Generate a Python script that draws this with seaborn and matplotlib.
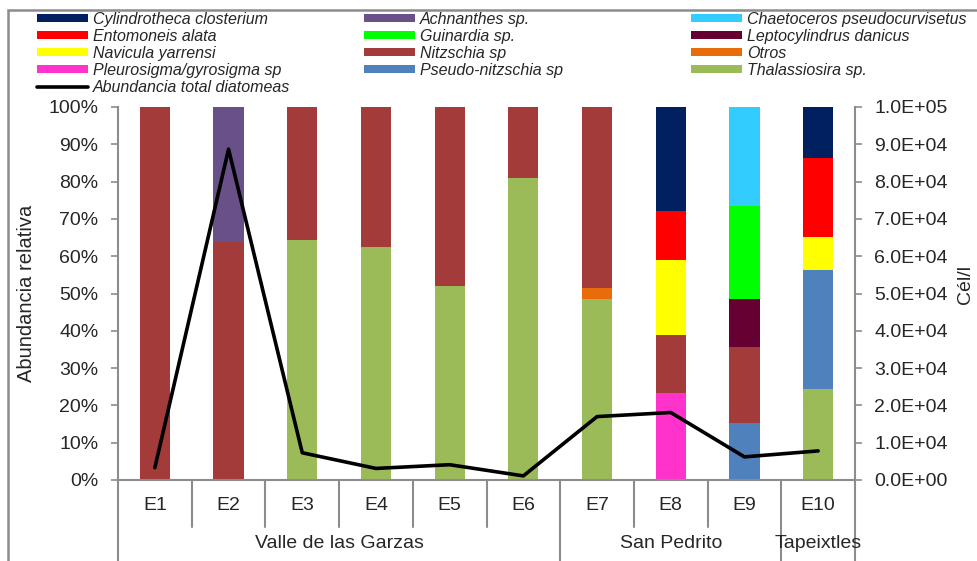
import numpy as np
import pandas as pd
import matplotlib
matplotlib.use("Agg")
import matplotlib.pyplot as plt
import matplotlib.transforms as mtransforms
from matplotlib.patches import Patch, Rectangle
from matplotlib.lines import Line2D
import seaborn as sns

# ---- data ----
stations = ["E1", "E2", "E3", "E4", "E5", "E6", "E7", "E8", "E9", "E10"]
regions = ["Valle de las Garzas", "San Pedrito", "Tapeixtles"]
region_sizes = [6, 3, 1]

# relative abundance (%) per taxon and station
cylindrotheca = [0, 0, 0, 0, 0, 0, 0, 27.9, 0, 13.8]
achnanthes = [0, 36.1, 0, 0, 0, 0, 0, 0, 0, 0]
chaetoceros = [0, 0, 0, 0, 0, 0, 0, 0, 26.5, 0]
entomoneis = [0, 0, 0, 0, 0, 0, 0, 13.1, 0, 21.0]
guinardia = [0, 0, 0, 0, 0, 0, 0, 0, 25.1, 0]
leptocylindrus = [0, 0, 0, 0, 0, 0, 0, 0, 12.7, 0]
navicula = [0, 0, 0, 0, 0, 0, 0, 20.2, 0, 8.9]
nitzschia = [100, 63.9, 35.7, 37.5, 48.0, 19.0, 48.5, 15.5, 20.3, 0]
otros = [0, 0, 0, 0, 0, 0, 3.1, 0, 0, 0]
pleurosigma = [0, 0, 0, 0, 0, 0, 0, 23.3, 0, 0]
pseudo_nitzschia = [0, 0, 0, 0, 0, 0, 0, 0, 15.4, 32.0]
thalassiosira = [0, 0, 64.3, 62.5, 52.0, 81.0, 48.4, 0, 0, 24.3]

# total diatom abundance (cells per litre)
total_cells = [3300, 88700, 7300, 3100, 4100, 1100, 17000, 18100, 6200, 7800]

taxa_names = [
    "Cylindrotheca closterium", "Achnanthes sp.", "Chaetoceros pseudocurvisetus",
    "Entomoneis alata", "Guinardia sp.", "Leptocylindrus danicus",
    "Navicula yarrensi", "Nitzschia sp", "Otros",
    "Pleurosigma/gyrosigma sp", "Pseudo-nitzschia sp", "Thalassiosira sp.",
]
taxa_values = [
    cylindrotheca, achnanthes, chaetoceros, entomoneis, guinardia, leptocylindrus,
    navicula, nitzschia, otros, pleurosigma, pseudo_nitzschia, thalassiosira,
]
taxa_colors = [
    "#002060", "#6A5088", "#33CCFF", "#FF0000", "#00FF00", "#660033",
    "#FFFF00", "#A33B3A", "#E96C0A", "#FF33CC", "#4F81BD", "#9BBB59",
]

# ---- style ----
sns.set_theme(style="white")
plt.rcParams["font.family"] = ["Liberation Sans", "DejaVu Sans"]
GRAY = "#8C8C8C"
TXT = "#262626"
FS = 14

W, H = 978, 561
fig = plt.figure(figsize=(W / 100, H / 100), dpi=100)
x0, x1, y0, y1 = 118, 855, 480, 107
ax = fig.add_axes([x0 / W, 1 - y0 / H, (x1 - x0) / W, (y0 - y1) / H])

# stacking goes bottom-up in reverse legend order
stack_order = list(range(len(taxa_names)))[::-1]
cum = np.zeros(len(stations))
levels = []
for i in stack_order:
    cum = cum + np.array(taxa_values[i], dtype=float)
    levels.append((i, cum.copy()))

# draw cumulative tops from the highest level down so each layer shows its own slice
for i, top in levels[::-1]:
    df = pd.DataFrame({"station": stations, "pct": top})
    sns.barplot(data=df, x="station", y="pct", order=stations, color=taxa_colors[i],
                saturation=1, width=0.41, errorbar=None, linewidth=0, ax=ax)

ax.set_xlim(-0.5, len(stations) - 0.5)
ax.set_ylim(0, 100)
ax.set_yticks(np.arange(0, 101, 10))
ax.set_yticklabels([f"{v:d}%" for v in range(0, 101, 10)], fontsize=FS, color=TXT)
ax.tick_params(axis="y", direction="out", length=5, width=1.2, color=GRAY, pad=9, left=True)
ax.set_xticks([])
ax.set_xlabel("")
ax.set_ylabel("")
for s in ["top", "right"]:
    ax.spines[s].set_visible(False)
for s in ["left", "bottom"]:
    ax.spines[s].set_color(GRAY)
    ax.spines[s].set_linewidth(1.5)

# secondary axis: total abundance
ax2 = ax.twinx()
line_df = pd.DataFrame({"pos": np.arange(len(stations)), "cells": total_cells})
sns.lineplot(data=line_df, x="pos", y="cells", color="black", linewidth=2.6,
             sort=False, ax=ax2)
ax2.set_ylim(0, 100000)
rt = np.arange(0, 100001, 10000)
ax2.set_yticks(rt)


def sci_label(v):
    if v == 0:
        return "0.0E+00"
    e = int(np.floor(np.log10(v)))
    return f"{v / 10 ** e:.1f}E+{e:02d}"


ax2.set_yticklabels([sci_label(v) for v in rt], fontsize=FS, color=TXT)
ax2.tick_params(axis="y", direction="out", length=5, width=1.2, color=GRAY, pad=9, right=True)
ax2.set_xlabel("")
ax2.set_ylabel("")
for s in ["top", "left", "bottom"]:
    ax2.spines[s].set_visible(False)
ax2.spines["right"].set_color(GRAY)
ax2.spines["right"].set_linewidth(1.5)
ax2.set_xlim(-0.5, len(stations) - 0.5)
ax2.set_xticks([])

# category axis with station and region levels
trans = mtransforms.blended_transform_factory(ax.transData, ax.transAxes)
px = 1.0 / (y0 - y1)
bounds = np.cumsum([0] + region_sizes) - 0.5
for k in range(len(stations) + 1):
    xb = k - 0.5
    long_line = np.any(np.isclose(bounds, xb))
    ylow = -(561 + 5 - y0) * px if long_line else -(527 - y0) * px
    ax.plot([xb, xb], [0, ylow], color=GRAY, lw=1.5, transform=trans, clip_on=False)
for k, st in enumerate(stations):
    ax.text(k, -(505 - y0) * px, st, transform=trans, ha="center", va="center",
            fontsize=FS, color=TXT)
for r, name in enumerate(regions):
    xc = (bounds[r] + bounds[r + 1]) / 2
    ax.text(xc, -(544 - y0) * px, name, transform=trans, ha="center", va="center",
            fontsize=FS, color=TXT)

# axis titles
fig.text(27 / W, 1 - 293 / H, "Abundancia relativa", rotation=90, ha="center",
         va="center", fontsize=14.5, color=TXT)
fig.text(966 / W, 1 - 284 / H, "Cél/l", rotation=90, ha="center", va="center",
         fontsize=FS, color=TXT)

# legend in three columns
handles = [Patch(facecolor=c, edgecolor="none") for c in taxa_colors]
labels = list(taxa_names)
handles.append(Line2D([], [], color="black", lw=2.6))
labels.append("Abundancia total diatomeas")
cols = [[0, 3, 6, 9, 12], [1, 4, 7, 10], [2, 5, 8, 11]]
col_x = [37, 364, 691]
LFS = 11.5
for cx, idx in zip(col_x, cols):
    leg = fig.legend([handles[j] for j in idx], [labels[j] for j in idx],
                     loc="upper left", bbox_to_anchor=(cx / W, 1 - 12 / H),
                     bbox_transform=fig.transFigure, frameon=False, ncol=1,
                     borderpad=0, borderaxespad=0, handlelength=3.2, handleheight=0.4,
                     handletextpad=0.3, labelspacing=0.12,
                     prop={"family": ["Liberation Sans", "DejaVu Sans"],
                           "style": "italic", "size": LFS})
    for t in leg.get_texts():
        t.set_color(TXT)

# outer chart frame
fig.patches.append(Rectangle((8 / W, -0.2), 1.2, (1 - 10 / H) + 0.2, fill=False,
                             edgecolor=GRAY, lw=1.8, transform=fig.transFigure,
                             figure=fig))

fig.savefig("out.png", dpi=100)
